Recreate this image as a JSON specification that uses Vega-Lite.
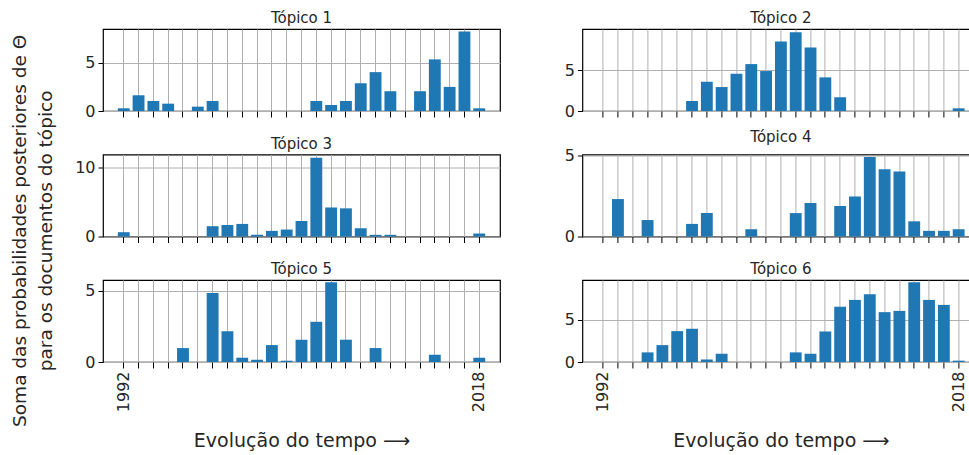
{
  "$schema": "https://vega.github.io/schema/vega-lite/v6.json",
  "padding": {"left": 10, "top": 10, "right": 0, "bottom": 0},
  "background": "white",
  "title": {
    "text": ["Soma das probabilidades posteriores de Θ", "para os documentos do tópico"],
    "orient": "left",
    "anchor": "middle",
    "font": "DejaVu Sans",
    "fontSize": 18.5,
    "fontWeight": "normal",
    "lineHeight": 26,
    "color": "#262626",
    "offset": 19
  },
  "data": {
    "values": [
      {"ano": 1992, "t1": 0.28, "t2": 0, "t3": 0.62, "t4": 0, "t5": 0, "t6": 0},
      {"ano": 1993, "t1": 1.63, "t2": 0, "t3": 0, "t4": 2.32, "t5": 0, "t6": 0},
      {"ano": 1995, "t1": 1.04, "t2": 0, "t3": 0, "t4": 0, "t5": 0, "t6": 0},
      {"ano": 1996, "t1": 0.76, "t2": 0, "t3": 0, "t4": 1.02, "t5": 0, "t6": 1.14},
      {"ano": 1997, "t1": 0, "t2": 0, "t3": 0, "t4": 0, "t5": 0.98, "t6": 2.0},
      {"ano": 1998, "t1": 0.45, "t2": 0, "t3": 0, "t4": 0, "t5": 0, "t6": 3.66},
      {"ano": 1999, "t1": 1.04, "t2": 1.23, "t3": 1.48, "t4": 0.78, "t5": 4.86, "t6": 3.94},
      {"ano": 2001, "t1": 0, "t2": 3.6, "t3": 1.67, "t4": 1.45, "t5": 2.17, "t6": 0.31},
      {"ano": 2002, "t1": 0, "t2": 2.95, "t3": 1.81, "t4": 0, "t5": 0.3, "t6": 0.98},
      {"ano": 2003, "t1": 0, "t2": 4.59, "t3": 0.24, "t4": 0, "t5": 0.16, "t6": 0},
      {"ano": 2004, "t1": 0, "t2": 5.78, "t3": 0.81, "t4": 0.45, "t5": 1.19, "t6": 0},
      {"ano": 2005, "t1": 0, "t2": 4.92, "t3": 1.0, "t4": 0, "t5": 0.09, "t6": 0},
      {"ano": 2006, "t1": 0, "t2": 8.57, "t3": 2.24, "t4": 0, "t5": 1.57, "t6": 0},
      {"ano": 2007, "t1": 1.04, "t2": 9.71, "t3": 11.33, "t4": 1.45, "t5": 2.83, "t6": 1.14},
      {"ano": 2008, "t1": 0.63, "t2": 7.83, "t3": 4.19, "t4": 2.07, "t5": 5.61, "t6": 0.98},
      {"ano": 2009, "t1": 1.04, "t2": 4.14, "t3": 4.05, "t4": 0, "t5": 1.57, "t6": 3.62},
      {"ano": 2010, "t1": 2.88, "t2": 1.68, "t3": 1.19, "t4": 1.89, "t5": 0, "t6": 6.54},
      {"ano": 2011, "t1": 4.03, "t2": 0, "t3": 0.24, "t4": 2.48, "t5": 0.98, "t6": 7.36},
      {"ano": 2012, "t1": 2.05, "t2": 0, "t3": 0.24, "t4": 4.92, "t5": 0, "t6": 8.03},
      {"ano": 2013, "t1": 0, "t2": 0, "t3": 0, "t4": 4.16, "t5": 0, "t6": 5.91},
      {"ano": 2014, "t1": 2.05, "t2": 0, "t3": 0, "t4": 4.02, "t5": 0, "t6": 6.06},
      {"ano": 2015, "t1": 5.35, "t2": 0, "t3": 0, "t4": 0.94, "t5": 0.51, "t6": 9.45},
      {"ano": 2016, "t1": 2.5, "t2": 0, "t3": 0, "t4": 0.35, "t5": 0, "t6": 7.36},
      {"ano": 2017, "t1": 8.23, "t2": 0, "t3": 0, "t4": 0.35, "t5": 0, "t6": 6.77},
      {"ano": 2018, "t1": 0.28, "t2": 0.33, "t3": 0.43, "t4": 0.45, "t5": 0.3, "t6": 0.16}
    ]
  },
  "columns": 2,
  "bounds": "flush",
  "spacing": {"row": 43.5, "column": 82.4},
  "concat": [
    {
      "title": "Tópico 1",
      "width": 397, "height": 82,
      "mark": {"type": "bar", "color": "#1f77b4"},
      "encoding": {
        "x": {"field": "ano", "type": "ordinal", "scale": {"paddingInner": 0.2, "paddingOuter": 1.2}, "axis": {"labels": false, "title": null}},
        "y": {"field": "t1", "type": "quantitative", "scale": {"domain": [0, 8.5], "nice": false}, "axis": {"values": [0, 5], "title": null}}
      }
    },
    {
      "title": "Tópico 2",
      "width": 397, "height": 82,
      "mark": {"type": "bar", "color": "#1f77b4"},
      "encoding": {
        "x": {"field": "ano", "type": "ordinal", "scale": {"paddingInner": 0.2, "paddingOuter": 1.2}, "axis": {"labels": false, "title": null}},
        "y": {"field": "t2", "type": "quantitative", "scale": {"domain": [0, 10.1], "nice": false}, "axis": {"values": [0, 5], "title": null}}
      }
    },
    {
      "title": "Tópico 3",
      "width": 397, "height": 82,
      "mark": {"type": "bar", "color": "#1f77b4"},
      "encoding": {
        "x": {"field": "ano", "type": "ordinal", "scale": {"paddingInner": 0.2, "paddingOuter": 1.2}, "axis": {"labels": false, "title": null}},
        "y": {"field": "t3", "type": "quantitative", "scale": {"domain": [0, 11.8], "nice": false}, "axis": {"values": [0, 10], "title": null}}
      }
    },
    {
      "title": "Tópico 4",
      "width": 397, "height": 82,
      "mark": {"type": "bar", "color": "#1f77b4"},
      "encoding": {
        "x": {"field": "ano", "type": "ordinal", "scale": {"paddingInner": 0.2, "paddingOuter": 1.2}, "axis": {"labels": false, "title": null}},
        "y": {"field": "t4", "type": "quantitative", "scale": {"domain": [0, 5.08], "nice": false}, "axis": {"values": [0, 5], "title": null}}
      }
    },
    {
      "title": "Tópico 5",
      "width": 397, "height": 82,
      "mark": {"type": "bar", "color": "#1f77b4"},
      "encoding": {
        "x": {"field": "ano", "type": "ordinal", "scale": {"paddingInner": 0.2, "paddingOuter": 1.2}, "axis": {"labelExpr": "datum.value == 1992 || datum.value == 2018 ? datum.label : ''", "labelAngle": -90, "title": "Evolução do tempo ⟶"}},
        "y": {"field": "t5", "type": "quantitative", "scale": {"domain": [0, 5.77], "nice": false}, "axis": {"values": [0, 5], "title": null}}
      }
    },
    {
      "title": "Tópico 6",
      "width": 397, "height": 82,
      "mark": {"type": "bar", "color": "#1f77b4"},
      "encoding": {
        "x": {"field": "ano", "type": "ordinal", "scale": {"paddingInner": 0.2, "paddingOuter": 1.2}, "axis": {"labelExpr": "datum.value == 1992 || datum.value == 2018 ? datum.label : ''", "labelAngle": -90, "title": "Evolução do tempo ⟶"}},
        "y": {"field": "t6", "type": "quantitative", "scale": {"domain": [0, 9.72], "nice": false}, "axis": {"values": [0, 5], "title": null}}
      }
    }
  ],
  "config": {
    "font": "DejaVu Sans",
    "view": {"stroke": "#000000", "strokeWidth": 1.2},
    "title": {"font": "DejaVu Sans", "fontSize": 15, "fontWeight": "normal", "color": "#262626", "offset": 3},
    "axis": {
      "grid": true,
      "gridColor": "#b0b0b0",
      "gridWidth": 1,
      "domain": false,
      "tickColor": "#000000",
      "tickSize": 5,
      "tickWidth": 1,
      "labelFont": "DejaVu Sans",
      "labelFontSize": 16,
      "labelColor": "#262626",
      "labelPadding": 3,
      "titleFont": "DejaVu Sans",
      "titleFontSize": 19,
      "titleFontWeight": "normal",
      "titleColor": "#262626",
      "bandPosition": 0.5
    },
    "axisX": {"tickSize": 6, "titlePadding": 20}
  }
}
